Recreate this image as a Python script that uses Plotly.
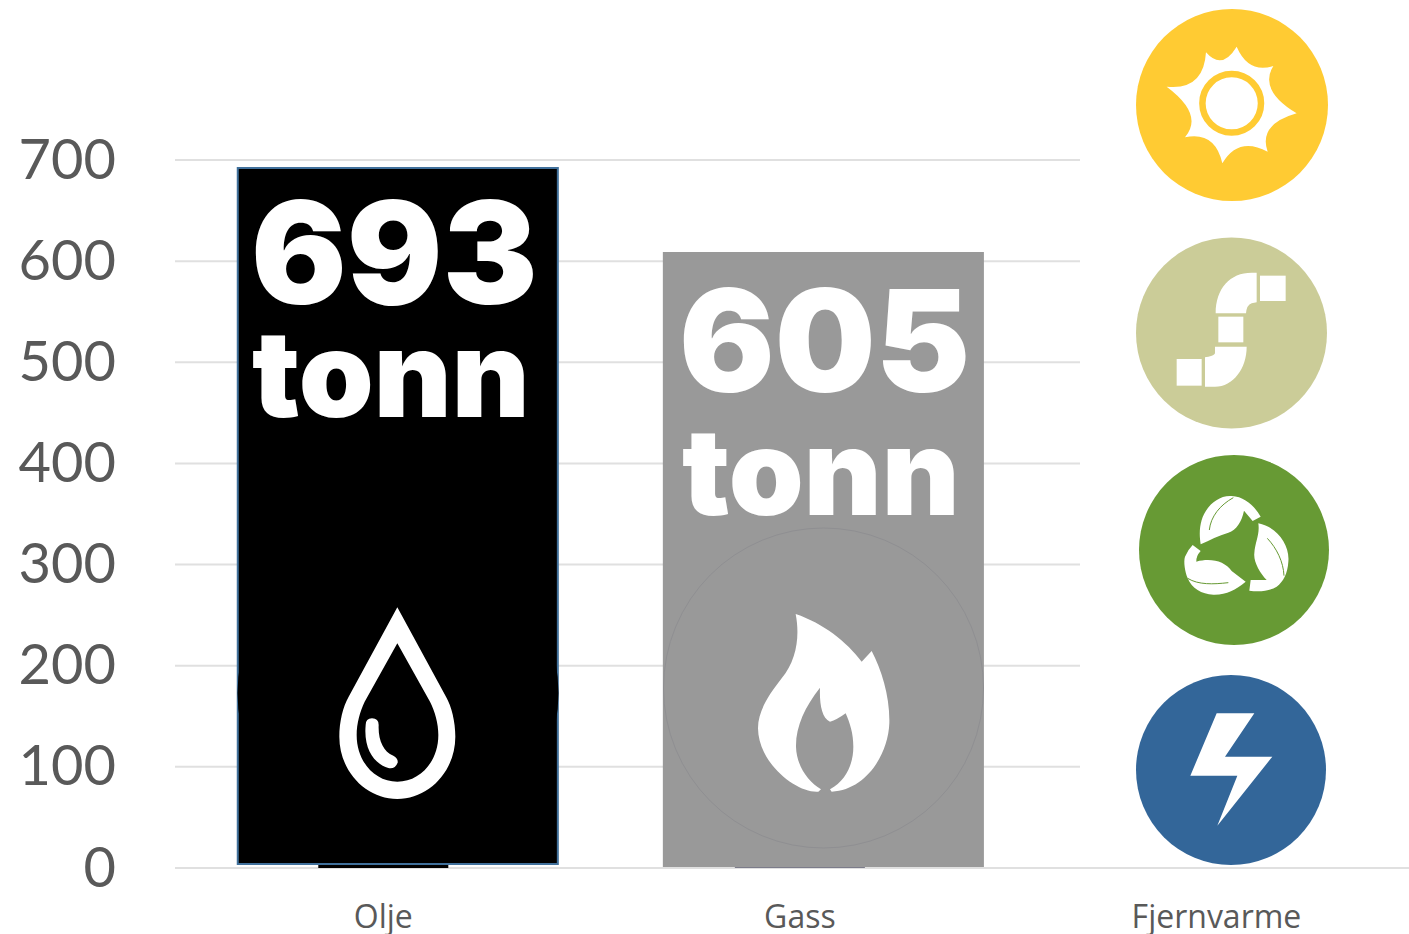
import re
import plotly.graph_objects as go

# ---- data ----
categories = ["Olje", "Gass", "Fjernvarme"]
tonnes = [693, 605, 0]
panel_base = [4, 1, 0]
panel_height = [688, 608, 0]
panel_colors = ["#000000", "#999999", "rgba(0,0,0,0)"]
sliver_colors = ["#000000", "#7C7C8A", "rgba(0,0,0,0)"]
tick_values = [0, 100, 200, 300, 400, 500, 600, 700]
unit = "tonn"

# ---- layout constants (pixels) ----
W, H = 1409, 934
L, B = 175, 868
PW = W - L
STEP = 416.5
CX0 = 383.5
PX_PER_UNIT = 708 / 700
TXT = "#595959"
GRID = "#E0E0E0"


def fx(px):
    return (px - L) / PW


def fy(py):
    return 1 - py / B


def zpath(d, ox, oy):
    """Convert an icon outline given in 3x crop pixels into paper coords."""
    toks = re.findall(r"[A-Za-z]|-?\d+\.?\d*", d)
    out, is_x = [], True
    for t in toks:
        if t.isalpha():
            out.append(t)
            is_x = True
        elif is_x:
            out.append(f"{fx(ox + float(t) / 3):.5f}")
            is_x = False
        else:
            out.append(f"{fy(oy + float(t) / 3):.5f}")
            is_x = True
    return " ".join(out)


shapes = []

for v in tick_values[1:]:
    shapes.append(dict(type="line", xref="paper", x0=0, x1=fx(1080), yref="y", y0=v, y1=v,
                       line=dict(color=GRID, width=2), layer="below"))


def circle(cx, cy, r, fill, line=None, lw=0):
    shapes.append(dict(type="circle", xref="paper", yref="paper",
                       x0=fx(cx - r), x1=fx(cx + r), y0=fy(cy + r), y1=fy(cy - r),
                       fillcolor=fill, line=dict(color=line or fill, width=lw)))


def icon(d, ox, oy, fill="white"):
    shapes.append(dict(type="path", xref="paper", yref="paper", path=zpath(d, ox, oy),
                       fillcolor=fill, line=dict(width=0)))


def stroke(d, ox, oy, color, w):
    shapes.append(dict(type="path", xref="paper", yref="paper", path=zpath(d, ox, oy),
                       line=dict(color=color, width=w)))


# Olje picture: circle edge + drop
circle(398, 693, 160.5, "#000000")
icon("M292,52 L438,320 C455,350 466,395 466,440 C466,545 385,627 292,627 C199,627 118,545 118,440 "
     "C118,395 129,350 146,320 Z "
     "M292,160 L390,335 C405,365 415,400 415,435 C415,515 360,575 292,575 C224,575 170,515 170,435 "
     "C170,400 180,365 194,335 Z", 300, 590)
icon("M197,405 Q197,385 216,385 Q236,385 236,405 C234,450 250,485 280,497 Q295,505 293,518 "
     "Q285,538 265,534 C225,522 190,480 197,405 Z", 300, 590)

# Gass picture: faint circle + flame
circle(823.5, 688, 160, "rgba(0,0,0,0)", "#8F8F92", 1)
icon("M437,282 C520,310 590,365 635,425 L665,393 C695,450 720,530 718,610 C715,700 650,810 545,815 "
     "L540,808 C590,780 610,730 610,680 C610,640 600,610 587,580 Q560,600 540,605 C515,595 508,550 510,503 "
     "C465,560 437,620 438,680 C440,740 475,785 513,808 L505,815 C440,820 325,730 324,625 "
     "C324,570 360,520 395,475 C440,420 450,350 437,282 Z", 650, 520)

# Sun
circle(1232, 105, 96, "#FFCB33")
icon("M258,157 Q306,212 350,140 Q385,221 460,198 Q415,271 530,340 Q414,373 443,455 Q355,408 307,490 "
     "Q285,393 195,412 Q253,344 140,260 Q251,272 258,157 Z", 1120, 0)
circle(1231.7, 103.3, 29.3, "white", "#FFCB33", 6.5)

# Pipe
circle(1231.5, 333, 95.5, "#CBCC98")
o = (1120, 225)
icon("M420,152 L497,152 L497,228 L420,228 Z", *o)
icon("M170,402 L245,402 L245,482 L170,482 Z", *o)
icon("M295,275 L370,275 L370,352 L295,352 Z", *o)
icon("M287,265 C287,190 330,143 395,143 L410,143 L410,232 L395,235 Q380,240 378,265 Z", *o)
icon("M380,365 L285,365 L285,385 Q283,392 265,395 L255,397 L255,485 L285,485 C340,485 380,430 380,365 Z", *o)

# Recycling
GREEN = "#679A34"
circle(1234, 550, 95, GREEN)
o = (1120, 445)
icon("M242,298 C238,270 238,250 245,225 C255,190 290,150 335,153 C375,155 405,185 422,215 L398,228 L372,197 "
     "C365,230 350,255 325,263 C295,272 270,285 242,298 Z", *o)
stroke("M268,255 C272,215 300,180 340,158", *o, GREEN, 1)
icon("M415,235 C470,245 510,300 505,350 C503,385 490,410 470,425 C445,440 415,440 388,437 L392,405 L440,405 "
     "C420,385 400,350 403,325 C405,290 420,270 415,235 Z", *o)
stroke("M442,280 C470,310 490,350 492,392", *o, GREEN, 1)
icon("M218,300 L242,318 Q228,333 229,350 C275,338 315,350 335,378 L377,410 C345,435 320,450 280,449 "
     "C245,448 215,430 203,400 C195,380 190,350 195,335 Q203,315 218,300 Z", *o)
stroke("M203,400 C235,420 280,418 325,413", *o, GREEN, 1)

# Bolt
circle(1231, 770, 95, "#336699")
icon("M290,160 L403,160 L315,290 L457,290 L292,497 L352,347 L211,347 Z", 1120, 660)

# ---- figure ----
fig = go.Figure()
fig.add_bar(x=categories, y=tonnes, width=130 / STEP, marker=dict(color=sliver_colors, line=dict(width=0)),
            hoverinfo="skip")
fig.add_bar(x=categories, y=panel_height, base=panel_base, width=[320 / STEP, 321 / STEP, 0.7],
            offset=[(238 - CX0) / STEP, (663 - CX0 - STEP) / STEP, -0.35],
            marker=dict(color=panel_colors,
                        line=dict(color=["#41719C", "#999999", "rgba(0,0,0,0)"], width=[2, 0, 0])),
            hoverinfo="skip")

BIG = dict(family="Inter", size=142, color="white", weight=900)
annots = [
    dict(text=str(tonnes[0]), x=fx(394.5), y=fy(252)),
    dict(text=unit, x=fx(391), y=fy(373), font=dict(BIG, size=120)),
    dict(text=str(tonnes[1]), x=fx(824), y=fy(339.5)),
    dict(text=unit, x=fx(821), y=fy(471), font=dict(BIG, size=120)),
]
for a in annots:
    a.update(xref="paper", yref="paper", xanchor="center", yanchor="middle", showarrow=False)
    a.setdefault("font", BIG)

fig.update_layout(
    width=W, height=H, margin=dict(l=L, r=0, t=0, b=H - B, pad=0, autoexpand=False),
    paper_bgcolor="white", plot_bgcolor="white", showlegend=False, barmode="overlay",
    shapes=shapes, annotations=annots,
    xaxis=dict(type="category", categoryorder="array", categoryarray=categories,
               range=[-0.5, (W - CX0) / STEP], showgrid=False, zeroline=False,
               showline=False, ticks="", automargin=False,
               tickfont=dict(family="Open Sans", size=32, color=TXT), ticklabelstandoff=27),
    yaxis=dict(range=[0, B / PX_PER_UNIT], tickvals=tick_values, showgrid=False,
               zeroline=True, zerolinecolor=GRID, zerolinewidth=2, automargin=False,
               showline=False, ticks="", ticklabelstandoff=58, ticklabelshift=-1,
               tickfont=dict(family="Lato", size=56, color=TXT)),
)

fig.write_html("out.html", config=dict(displayModeBar=False),
               post_script="document.body.style.margin='0';document.body.style.overflow='hidden';")
